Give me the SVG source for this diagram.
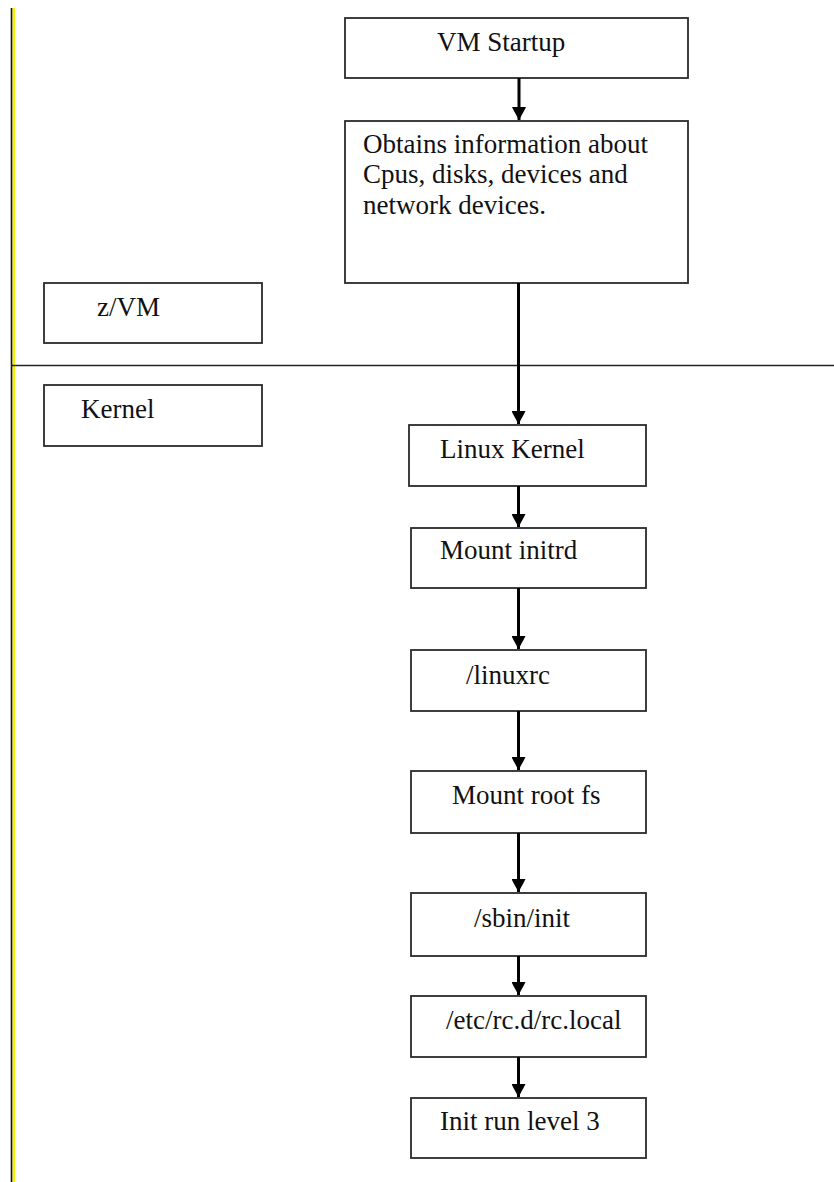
<svg xmlns="http://www.w3.org/2000/svg" width="834" height="1182" viewBox="0 0 834 1182">
<style>
.box{fill:#fff;stroke:#2a2a2a;stroke-width:1.8}
.t{font-family:"Liberation Serif","Times New Roman",serif;font-size:27px;fill:#111}
.edge{stroke:#000;stroke-width:3;fill:none}
</style>
<defs>
<marker id="ah" viewBox="0 0 14 14" refX="13" refY="7" markerWidth="14" markerHeight="14" markerUnits="userSpaceOnUse" orient="auto">
<path d="M0,0 L4,2 L13,7 L4,12 L0,14 z" fill="#000"/>
</marker>
</defs>
<rect x="0" y="0" width="834" height="1182" fill="#fff"/>
<g id="frame">
<rect x="12.5" y="8" width="2.5" height="1174" fill="#f5f000"/>
<line x1="11.5" y1="8" x2="11.5" y2="1182" stroke="#111" stroke-width="1.6"/>
<line x1="11" y1="365.5" x2="834" y2="365.5" stroke="#222" stroke-width="1.6"/>
</g>
<g id="n-vmstartup"><rect class="box" x="345" y="18" width="343" height="60"/><text class="t" x="437" y="51">VM Startup</text></g>
<g id="n-obtains"><rect class="box" x="345" y="121" width="343" height="162"/><text class="t" x="363" y="152.5">Obtains information about</text><text class="t" x="363" y="183">Cpus, disks, devices and</text><text class="t" x="363" y="213.5">network devices.</text></g>
<g id="n-zvm"><rect class="box" x="44" y="283" width="218" height="60"/><text class="t" x="97" y="316">z/VM</text></g>
<g id="n-kernel"><rect class="box" x="44" y="385" width="218" height="61"/><text class="t" x="81" y="418">Kernel</text></g>
<g id="n-linuxkernel"><rect class="box" x="409" y="425" width="237" height="61"/><text class="t" x="440" y="458">Linux Kernel</text></g>
<g id="n-mountinitrd"><rect class="box" x="411" y="528" width="235" height="60"/><text class="t" x="440" y="559">Mount initrd</text></g>
<g id="n-linuxrc"><rect class="box" x="411" y="650" width="235" height="61"/><text class="t" x="466" y="684">/linuxrc</text></g>
<g id="n-mountroot"><rect class="box" x="411" y="771" width="235" height="62"/><text class="t" x="452" y="804">Mount root fs</text></g>
<g id="n-sbininit"><rect class="box" x="411" y="893" width="235" height="63"/><text class="t" x="474" y="927">/sbin/init</text></g>
<g id="n-rclocal"><rect class="box" x="411" y="996" width="235" height="61"/><text class="t" x="446" y="1029">/etc/rc.d/rc.local</text></g>
<g id="n-runlevel"><rect class="box" x="411" y="1098" width="235" height="60"/><text class="t" x="440" y="1130">Init run level 3</text></g>
<g id="connectors">
<line class="edge" x1="519" y1="78" x2="519" y2="120" marker-end="url(#ah)"/>
<line class="edge" x1="518.5" y1="283" x2="518.5" y2="424" marker-end="url(#ah)"/>
<line class="edge" x1="518.5" y1="486" x2="518.5" y2="527" marker-end="url(#ah)"/>
<line class="edge" x1="518.5" y1="588" x2="518.5" y2="649" marker-end="url(#ah)"/>
<line class="edge" x1="518.5" y1="711" x2="518.5" y2="770" marker-end="url(#ah)"/>
<line class="edge" x1="518.5" y1="833" x2="518.5" y2="892" marker-end="url(#ah)"/>
<line class="edge" x1="518.5" y1="956" x2="518.5" y2="995" marker-end="url(#ah)"/>
<line class="edge" x1="518.5" y1="1057" x2="518.5" y2="1097" marker-end="url(#ah)"/>
</g>
</svg>
